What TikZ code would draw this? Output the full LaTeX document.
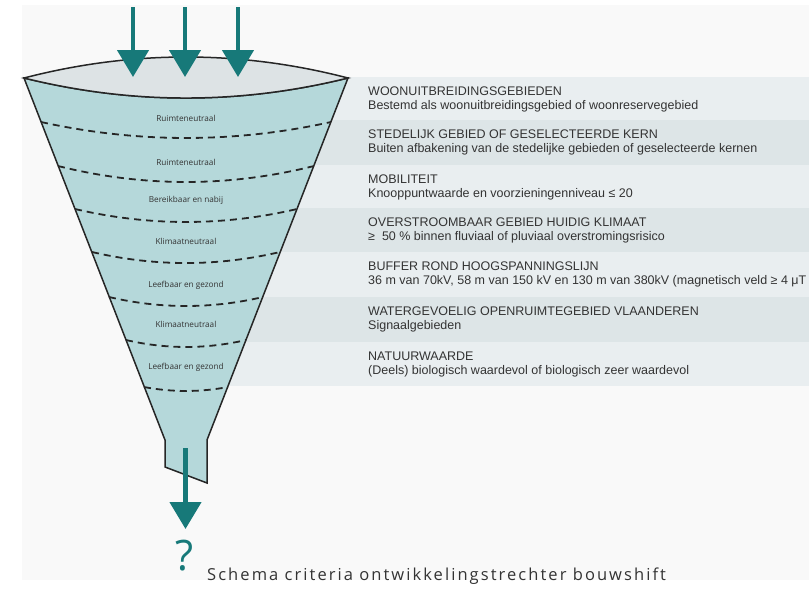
\documentclass[tikz,border=0pt]{standalone}
\usepackage{fontspec}
\setmainfont{Liberation Sans}
\newfontfamily\capfont[LetterSpace=12.5]{Open Sans}
\newfontfamily\lblfont{Open Sans}
\usetikzlibrary{arrows.meta}
\definecolor{teal1}{RGB}{23,121,121}
\definecolor{funfill}{RGB}{181,216,218}
\definecolor{lensfill}{RGB}{221,227,229}
\definecolor{bandA}{RGB}{233,238,240}
\definecolor{bandB}{RGB}{221,229,231}
\definecolor{panelbg}{RGB}{249,249,249}
\definecolor{txt}{RGB}{51,51,51}
\begin{document}
\begin{tikzpicture}[x=1pt,y=-1pt,
  outline/.style={draw=black!85, line width=1.5pt, line join=miter},
  dashline/.style={draw=black!85, line width=1.8pt, dash pattern=on 7pt off 5pt},
  flowarrow/.style={draw=teal1, line width=4.5pt, -{Triangle[length=27pt,width=31pt]}},
  lbl/.style={font=\lblfont\fontsize{8.2}{10}\selectfont, text=txt, inner sep=0pt},
  crit/.style={anchor=west, font=\fontsize{12.5}{14}\selectfont, text=txt, inner sep=0pt}]
\useasboundingbox (0,0) rectangle (809,597);
\fill[white] (0,0) rectangle (809,597);
\fill[panelbg] (22,5) rectangle (809,580);
% bands
\fill[bandA] (150,77) rectangle (809,120);
\fill[bandB] (150,120) rectangle (809,165);
\fill[bandA] (150,165) rectangle (809,208);
\fill[bandB] (150,208) rectangle (809,252);
\fill[bandA] (150,252) rectangle (809,297);
\fill[bandB] (150,297) rectangle (809,342);
\fill[bandA] (150,342) rectangle (809,386);
% funnel
\draw[outline, fill=funfill] (24,78) .. controls (132,104.7) and (240,104.7) .. (348,78) -- (207,440) -- (207,483) -- (165,467) -- (165,440) -- cycle;
\draw[outline, fill=lensfill] (24,78) .. controls (132,50) and (240,50) .. (348,78) .. controls (240,104.7) and (132,104.7) .. (24,78) -- cycle;
% dashed separators
\draw[dashline] (41,122) .. controls (137.7,143.3) and (234.3,143.3) .. (331,122);
\draw[dashline] (58,166) .. controls (143.3,187.3) and (228.7,187.3) .. (314,166);
\draw[dashline] (75,209) .. controls (149,226.3) and (223,226.3) .. (297,209);
\draw[dashline] (92,252) .. controls (154.7,266.7) and (217.3,266.7) .. (280,252);
\draw[dashline] (109,297) .. controls (160.3,309) and (211.7,309) .. (263,297);
\draw[dashline] (126,340) .. controls (166,349.3) and (206,349.3) .. (246,340);
\draw[dashline] (144,387) .. controls (172,392.3) and (200,392.3) .. (228,387);
% funnel labels
\node[lbl] (l1) at (186,118) {Ruimteneutraal};
\node[lbl] (l2) at (186,162) {Ruimteneutraal};
\node[lbl] (l3) at (186,200) {Bereikbaar en nabij};
\node[lbl] (l4) at (186,241) {Klimaatneutraal};
\node[lbl] (l5) at (186,285) {Leefbaar en gezond};
\node[lbl] (l6) at (186,324) {Klimaatneutraal};
\node[lbl] (l7) at (186,367) {Leefbaar en gezond};
% arrows in
\coordinate (a1s) at (133,7); \coordinate (a1e) at (133,77);
\coordinate (a2s) at (185,7); \coordinate (a2e) at (185,77);
\coordinate (a3s) at (238,7); \coordinate (a3e) at (238,77);
\draw[flowarrow] (a1s) -- (a1e);
\draw[flowarrow] (a2s) -- (a2e);
\draw[flowarrow] (a3s) -- (a3e);
% arrow out
\coordinate (bs) at (185.5,448); \coordinate (be) at (185.5,529);
\draw[flowarrow] (bs) -- (be);
\node[anchor=base, text=teal1, font=\lblfont\fontsize{42}{42}\selectfont, inner sep=0pt] (q) at (185,570) {?};
% criteria text
\node[crit] (t1) at (368,91.5) {WOONUITBREIDINGSGEBIEDEN};
\node[crit] (s1) at (368,106) {Bestemd als woonuitbreidingsgebied of woonreservegebied};
\node[crit] (t2) at (368,134.5) {STEDELIJK GEBIED OF GESELECTEERDE KERN};
\node[crit] (s2) at (368,149) {Buiten afbakening van de stedelijke gebieden of geselecteerde kernen};
\node[crit] (t3) at (368,179.5) {MOBILITEIT};
\node[crit] (s3) at (368,194) {Knooppuntwaarde en voorzieningenniveau ≤ 20};
\node[crit] (t4) at (368,222.5) {OVERSTROOMBAAR GEBIED HUIDIG KLIMAAT};
\node[crit] (s4) at (368,237) {≥\ \ 50 \% binnen fluviaal of pluviaal overstromingsrisico};
\node[crit] (t5) at (368,266.5) {BUFFER ROND HOOGSPANNINGSLIJN};
\node[crit] (s5) at (368,281) {36 m van 70kV, 58 m van 150 kV en 130 m van 380kV (magnetisch veld ≥ 4 μT};
\node[crit] (t6) at (368,311.5) {WATERGEVOELIG OPENRUIMTEGEBIED VLAANDEREN};
\node[crit] (s6) at (368,326) {Signaalgebieden};
\node[crit] (t7) at (368,356.5) {NATUURWAARDE};
\node[crit] (s7) at (368,371) {(Deels) biologisch waardevol of biologisch zeer waardevol};
% caption
\node[anchor=base west, inner sep=0pt, text=txt, font=\capfont\fontsize{16.5}{19}\selectfont] (cap) at (207,580) {Schema criteria ontwikkelingstrechter bouwshift};
\end{tikzpicture}
\end{document}
